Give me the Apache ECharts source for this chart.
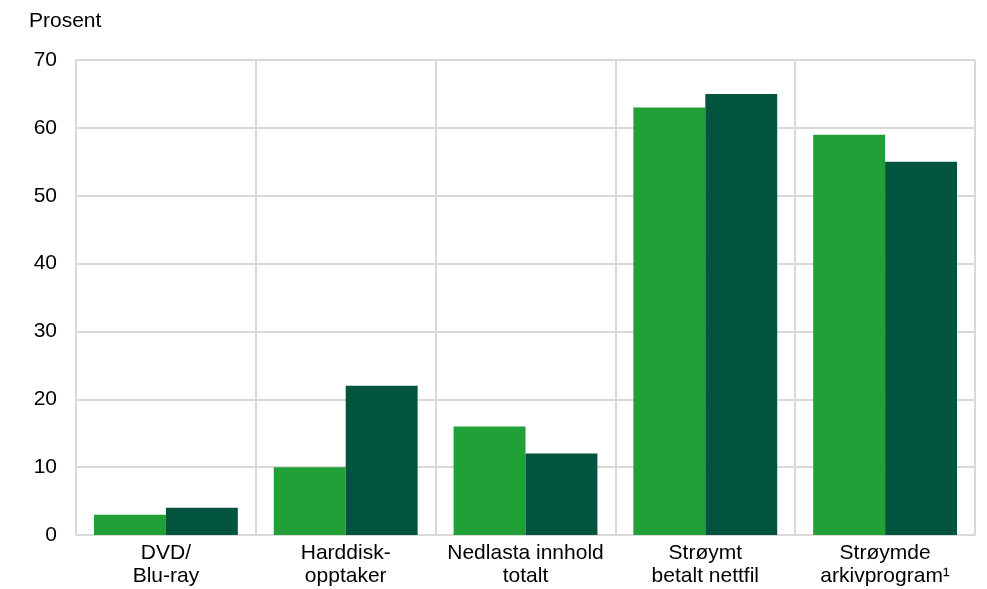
<!DOCTYPE html>
<html><head><meta charset="utf-8">
<script src="https://cdn.jsdelivr.net/npm/echarts@6/dist/echarts.min.js"></script>
<style>html,body{margin:0;padding:0;background:#fff}#c{width:987px;height:589px}</style>
</head><body><div id="c"></div>
<script>
const categories = ['DVD/\nBlu-ray', 'Harddisk-\nopptaker', 'Nedlasta innhold\ntotalt', 'Strøymt\nbetalt nettfil', 'Strøymde\narkivprogram¹'];
const seriesA = [3, 10, 16, 63, 59];
const seriesB = [4, 22, 12, 65, 55];
const yTicks = { min: 0, max: 70, interval: 10 };
const gridColor = '#d9d9d9';
const font = 'Liberation Sans, Arial, sans-serif';
const chart = echarts.init(document.getElementById('c'), null, {renderer: 'canvas'});
chart.setOption({
  animation: false,
  backgroundColor: '#fff',
  grid: { left: 76, right: 12, top: 60, bottom: 54, containLabel: false },
  graphic: [{ type: 'text', left: 29, top: 11, style: { text: 'Prosent', fontSize: 21, fontFamily: font, fill: '#000' } }],
  xAxis: {
    type: 'category', data: categories, boundaryGap: true,
    axisLine: { show: true, lineStyle: { color: gridColor, width: 2 } },
    axisTick: { show: false, interval: 0 },
    splitLine: { show: true, interval: 0, showMinLine: true, showMaxLine: true, lineStyle: { color: gridColor, width: 2 } },
    axisLabel: { interval: 0, hideOverlap: false, color: '#000', fontSize: 21, fontFamily: font, lineHeight: 23, margin: 7 }
  },
  yAxis: {
    type: 'value', min: yTicks.min, max: yTicks.max, interval: yTicks.interval,
    axisLine: { show: false }, axisTick: { show: false },
    splitLine: { show: true, lineStyle: { color: gridColor, width: 2 } },
    axisLabel: { color: '#000', fontSize: 21, fontFamily: font, margin: 19 }
  },
  series: [
    { type: 'bar', data: seriesA, barGap: '0%', barCategoryGap: '20%', itemStyle: { color: '#21a038' } },
    { type: 'bar', data: seriesB, barGap: '0%', barCategoryGap: '20%', itemStyle: { color: '#02543f' } }
  ]
});
</script></body></html>
